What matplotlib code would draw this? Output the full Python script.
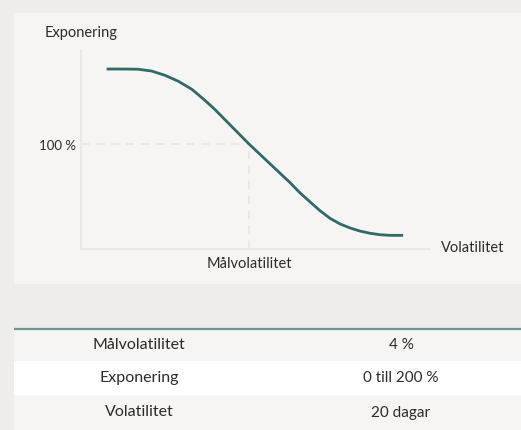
import matplotlib
matplotlib.use("Agg")
import matplotlib.pyplot as plt
from matplotlib.patches import Rectangle

plt.rcParams["font.family"] = ["Lato", "DejaVu Sans"]

# ── Data ──────────────────────────────────────────────────────────────────────
volatility = [0.61, 1.05, 1.36, 1.68, 2.00, 2.32, 2.64, 2.95, 3.19, 4.0,
              4.98, 5.21, 5.45, 5.69, 5.93, 6.17, 6.41, 6.64, 6.88, 7.12,
              7.36, 7.67]
exposure = [171.4, 171.4, 171.2, 169.5, 165.4, 159.7, 152.1, 141.6, 132.8, 100.0,
            63.1, 53.6, 45.0, 36.5, 29.2, 23.8, 20.0, 17.1, 15.0, 13.6,
            13.0, 13.0]
target_vol = 4.0
target_exp = 100.0

table_labels = ["Målvolatilitet", "Exponering", "Volatilitet"]
table_values = ["4 %", "0 till 200 %", "20 dagar"]

# ── Colours ───────────────────────────────────────────────────────────────────
C_OUTER = "#eeede9"
C_PANEL = "#f6f5f3"
C_WHITE = "#ffffff"
C_LINE = "#2e6b66"
C_AXIS = "#e8e6e1"
C_RULE = "#6b958e"
C_TEXT = "#2b2b2b"

W, H = 521, 430
fig = plt.figure(figsize=(W / 100, H / 100), dpi=100)
fig.patch.set_facecolor(C_OUTER)

# background layer in pixel coordinates
bg = fig.add_axes([0, 0, 1, 1])
bg.set_xlim(0, W)
bg.set_ylim(H, 0)
bg.axis("off")
bg.add_patch(Rectangle((14, 13), W - 14, 271, facecolor=C_PANEL, lw=0))

# table rows
row_tops = [329, 361, 395]
row_h = [32, 34, 35]
row_bg = [C_PANEL, C_WHITE, C_PANEL]
for i, (lbl, val) in enumerate(zip(table_labels, table_values)):
    y0 = row_tops[i]
    bg.add_patch(Rectangle((14, y0), W - 14, row_h[i], facecolor=row_bg[i], lw=0))
    yc = y0 + row_h[i] / 2
    bg.text(139, yc, lbl, ha="center", va="center", fontsize=11.5, color=C_TEXT)
    bg.text(401, yc, val, ha="center", va="center", fontsize=11, color=C_TEXT)
bg.plot([14, W], [328.5, 328.5], color=C_RULE, lw=1.6, solid_capstyle="butt")

# chart labels
bg.text(45, 33, "Exponering", ha="left", va="center", fontsize=10.5, color=C_TEXT)
bg.text(76, 146, "100 %", ha="right", va="center", fontsize=9.5, color=C_TEXT)
bg.text(249, 264, "Målvolatilitet", ha="center", va="center", fontsize=10.5, color=C_TEXT)
bg.text(441, 248, "Volatilitet", ha="left", va="center", fontsize=10.5, color=C_TEXT)

# ── Chart ─────────────────────────────────────────────────────────────────────
x0, x1, y_top, y_bot = 81, 430, 50, 249
ax = fig.add_axes([x0 / W, (H - y_bot) / H, (x1 - x0) / W, (y_bot - y_top) / H])
ax.patch.set_alpha(0)
ax.set_xlim(0, (x1 - x0) / 42)
ax.set_ylim(0, (y_bot - y_top) / 1.05)
for s in ["top", "right"]:
    ax.spines[s].set_visible(False)
for s in ["left", "bottom"]:
    ax.spines[s].set_color(C_AXIS)
    ax.spines[s].set_linewidth(1.2)
ax.set_xticks([])
ax.set_yticks([])

ax.plot([0, target_vol], [target_exp, target_exp], color=C_AXIS, lw=1.2,
        ls=(0, (5, 4)))
ax.plot([target_vol, target_vol], [0, target_exp], color=C_AXIS, lw=1.2,
        ls=(0, (5, 4)))
ax.plot(volatility, exposure, color=C_LINE, lw=2.0, solid_capstyle="butt",
        solid_joinstyle="round")

fig.savefig("out.png", dpi=100, facecolor=C_OUTER)
